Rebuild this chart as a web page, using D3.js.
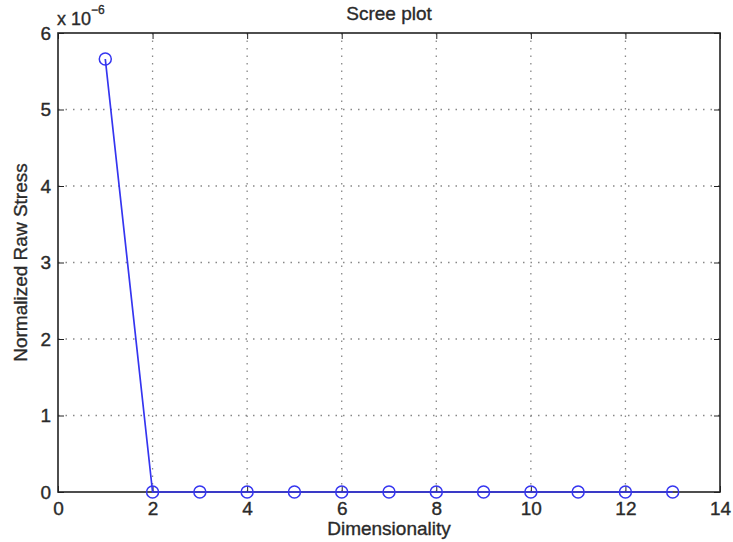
<!DOCTYPE html>
<html>
<head>
<meta charset="utf-8">
<script src="https://cdn.jsdelivr.net/npm/d3@7"></script>
<style>
  body { margin: 0; background: #fff; }
  text { font-family: "Liberation Sans", Arial, sans-serif; fill: #2a2a2a; stroke: #2a2a2a; stroke-width: 0.35px; }
</style>
</head>
<body>
<div class="chart"></div>
<script>
// Data
const dims = [1, 2, 3, 4, 5, 6, 7, 8, 9, 10, 11, 12, 13];
const stress = [5.66, 0, 0, 0, 0, 0, 0, 0, 0, 0, 0, 0, 0]; // x 10^-6
const xTicks = [0, 2, 4, 6, 8, 10, 12, 14];
const yTicks = [0, 1, 2, 3, 4, 5, 6];

const W = 733, H = 542;
const margin = { top: 33, right: 13, bottom: 50, left: 58 };
const width = W - margin.left - margin.right;
const height = H - margin.top - margin.bottom;

const svg = d3.select(".chart").append("svg")
  .attr("width", W).attr("height", H);

const g = svg.append("g")
  .attr("transform", `translate(${margin.left},${margin.top})`);

const x = d3.scaleLinear().domain([0, 14]).range([0, width]);
const y = d3.scaleLinear().domain([0, 6]).range([height, 0]);

// Dotted grid
g.append("g").selectAll("line")
  .data(xTicks.slice(1, -1))
  .join("line")
  .attr("x1", d => x(d)).attr("x2", d => x(d))
  .attr("y1", 0).attr("y2", height)
  .attr("stroke", "#888").attr("stroke-width", 1.3)
  .attr("stroke-dasharray", "1.5,6");
g.append("g").selectAll("line")
  .data(yTicks.slice(1, -1))
  .join("line")
  .attr("y1", d => y(d)).attr("y2", d => y(d))
  .attr("x1", 0).attr("x2", width)
  .attr("stroke", "#888").attr("stroke-width", 1.3)
  .attr("stroke-dasharray", "1.5,6");

// Axes with inward ticks
const axStyle = sel => {
  sel.select(".domain").remove();
  sel.selectAll(".tick line").attr("stroke", "#222");
  sel.selectAll("text").style("font-size", "19px").attr("fill", "#2a2a2a");
};
g.append("g").attr("transform", `translate(0,${height})`)
  .call(d3.axisBottom(x).tickValues(xTicks).tickSizeInner(-6).tickPadding(10).tickFormat(d3.format("d")))
  .call(axStyle);
g.append("g")
  .call(d3.axisLeft(y).tickValues(yTicks).tickSizeInner(-6).tickPadding(7).tickFormat(d3.format("d")))
  .call(axStyle);
g.append("g")
  .call(d3.axisTop(x).tickValues(xTicks).tickSizeInner(-6).tickFormat(""))
  .call(axStyle);
g.append("g").attr("transform", `translate(${width},0)`)
  .call(d3.axisRight(y).tickValues(yTicks).tickSizeInner(-6).tickFormat(""))
  .call(axStyle);

// Frame
g.append("rect")
  .attr("width", width).attr("height", height)
  .attr("fill", "none").attr("stroke", "#222").attr("stroke-width", 1.6);

// Series
const line = d3.line().x((d, i) => x(dims[i])).y(d => y(d));
g.append("path")
  .datum(stress)
  .attr("fill", "none")
  .attr("stroke", "#3535f0")
  .attr("stroke-width", 1.7)
  .attr("d", line);
g.append("g").selectAll("circle")
  .data(stress)
  .join("circle")
  .attr("cx", (d, i) => x(dims[i]))
  .attr("cy", d => y(d))
  .attr("r", 6)
  .attr("fill", "none")
  .attr("stroke", "#3535f0")
  .attr("stroke-width", 1.5);

// Labels
svg.append("text")
  .attr("x", margin.left + width / 2).attr("y", 20)
  .attr("text-anchor", "middle").style("font-size", "19px")
  .text("Scree plot");
svg.append("text")
  .attr("x", 389).attr("y", 535)
  .attr("text-anchor", "middle").style("font-size", "19px")
  .text("Dimensionality");
svg.append("text")
  .attr("transform", `translate(27,${margin.top + height / 2}) rotate(-90)`)
  .attr("text-anchor", "middle").style("font-size", "19px")
  .text("Normalized Raw Stress");

const exp = svg.append("text")
  .attr("x", 57).attr("y", 25)
  .style("font-size", "18px");
exp.append("tspan").text("x 10");
exp.append("tspan").attr("dy", -11).style("font-size", "12px").text("−6");
</script>
</body>
</html>
